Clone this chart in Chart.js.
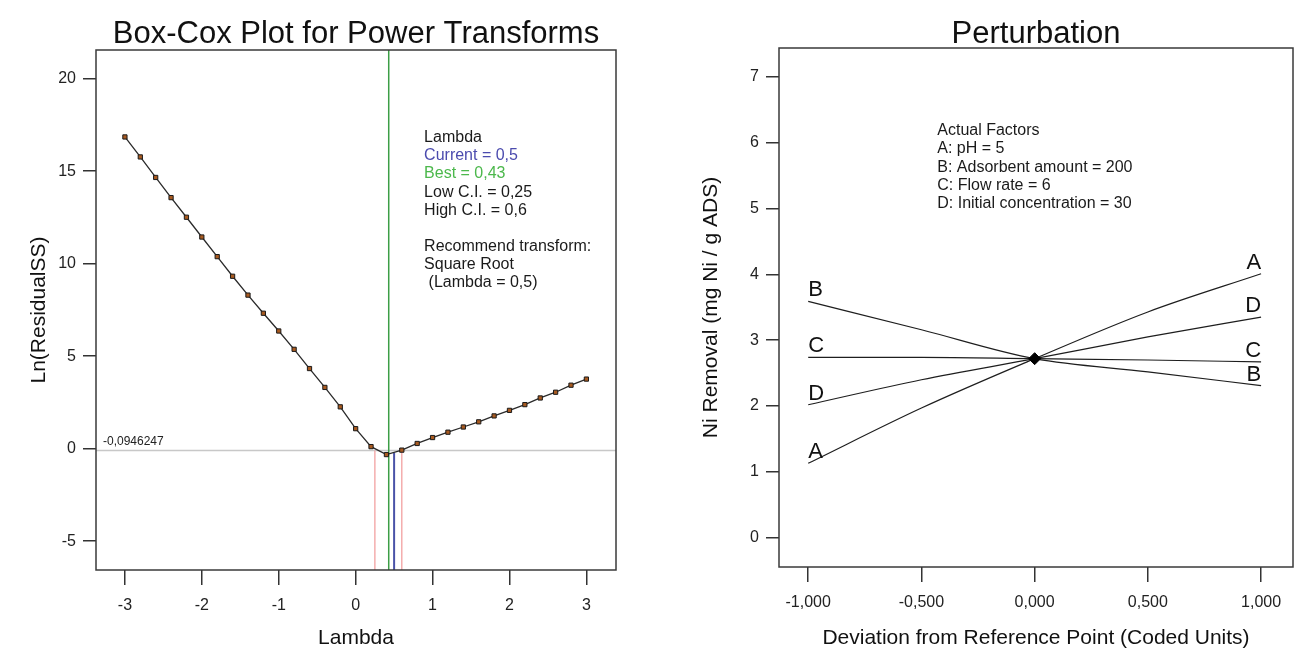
<!DOCTYPE html>
<html>
<head>
<meta charset="utf-8">
<title>Box-Cox Plot and Perturbation</title>
<script src="https://cdn.jsdelivr.net/npm/chart.js@4.4.1/dist/chart.umd.min.js"></script>
<style>
  html, body { margin: 0; padding: 0; background: #fff; }
  #wrap { position: relative; width: 1294px; height: 651px; overflow: hidden; }
  canvas { position: absolute; top: 0; }
  #boxcox { left: 0; }
  #perturb { left: 650px; }
</style>
</head>
<body>
<div id="wrap">
  <canvas id="boxcox" width="650" height="651"></canvas>
  <canvas id="perturb" width="650" height="651"></canvas>
</div>
<script>
// ---- Box-Cox data ----
const lambdaValues = [-3, -2.8, -2.6, -2.4, -2.2, -2, -1.8, -1.6, -1.4, -1.2, -1, -0.8, -0.6, -0.4, -0.2,
                      0, 0.2, 0.4, 0.6, 0.8, 1, 1.2, 1.4, 1.6, 1.8, 2, 2.2, 2.4, 2.6, 2.8, 3];
const lnResidualSS = [16.85, 15.77, 14.66, 13.57, 12.51, 11.44, 10.38, 9.32, 8.30, 7.32, 6.36, 5.37, 4.33, 3.31, 2.26,
                      1.08, 0.11, -0.32, -0.08, 0.28, 0.60, 0.89, 1.17, 1.45, 1.77, 2.07, 2.38, 2.74, 3.05, 3.43, 3.76];
const ciThreshold = -0.0946247;
const lambdaLowCI = 0.25;
const lambdaBest = 0.43;
const lambdaCurrent = 0.5;
const lambdaHighCI = 0.6;
const currentLn = -0.22;
const boxcoxXTicks = [-3, -2, -1, 0, 1, 2, 3];
const boxcoxYTicks = [-5, 0, 5, 10, 15, 20];
const boxcoxXRange = [-3.376, 3.385];
const boxcoxYRange = [-6.56, 21.55];
const boxcoxNote = ['Lambda', 'Current = 0,5', 'Best = 0,43', 'Low C.I. = 0,25', 'High C.I. = 0,6', '',
                    'Recommend transform:', 'Square Root', ' (Lambda = 0,5)'];
const boxcoxNoteColors = ['#1a1a1a', '#4b4bae', '#4cb84c', '#1a1a1a', '#1a1a1a', '#1a1a1a', '#1a1a1a', '#1a1a1a', '#1a1a1a'];

// ---- Perturbation data ----
const deviation = [-1, -0.5, 0, 0.5, 1];
const factorA = [1.13, 1.97, 2.72, 3.43, 4.01];
const factorB = [3.59, 3.16, 2.72, 2.52, 2.31];
const factorC = [2.74, 2.74, 2.72, 2.70, 2.67];
const factorD = [2.02, 2.40, 2.72, 3.05, 3.35];
const factorNames = ['A', 'B', 'C', 'D'];
const referencePoint = { x: 0, y: 2.72 };
const perturbXTicks = [-1, -0.5, 0, 0.5, 1];
const perturbYTicks = [0, 1, 2, 3, 4, 5, 6, 7];
const perturbXRange = [-1.129, 1.141];
const perturbYRange = [-0.445, 7.44];
const perturbNote = ['Actual Factors', 'A: pH = 5', 'B: Adsorbent amount = 200', 'C: Flow rate = 6', 'D: Initial concentration = 30'];

const FONT = '"Liberation Sans", Arial, sans-serif';
Chart.defaults.font.family = FONT;
Chart.defaults.color = '#222';

function xy(xs, ys) {
    return xs.map((x, i) => ({ x: x, y: ys[i] }));
}

function fixedTicks(values) {
    return scale => { scale.ticks = values.map(v => ({ value: v })); };
}

// frame + title + notes, drawn after everything else
function framePlugin(title, extra) {
    return {
        id: 'frame',
        afterDraw(chart) {
            const ctx = chart.ctx;
            const a = chart.chartArea;
            ctx.save();
            ctx.strokeStyle = '#3a3a3a';
            ctx.lineWidth = 1.5;
            ctx.strokeRect(a.left, a.top, a.right - a.left, a.bottom - a.top);
            ctx.fillStyle = '#111';
            ctx.font = '31px ' + FONT;
            ctx.textAlign = 'center';
            ctx.textBaseline = 'alphabetic';
            ctx.fillText(title, (a.left + a.right) / 2, 43);
            if (extra) extra(chart, ctx);
            ctx.restore();
        }
    };
}

function drawNote(ctx, x, y, lines, colors) {
    ctx.font = '16px ' + FONT;
    ctx.textAlign = 'left';
    ctx.textBaseline = 'middle';
    lines.forEach((line, i) => {
        ctx.fillStyle = colors ? colors[i] : '#1a1a1a';
        ctx.fillText(line, x, y + i * 18.1);
    });
}

function axisStyle(tickLength, padding) {
    return {
        grid: { drawOnChartArea: false, drawTicks: true, tickLength: tickLength, tickColor: '#333', lineWidth: 1.5 },
        border: { display: false },
        ticks: { padding: padding, font: { size: 16 }, color: '#222' }
    };
}

// ---------- Box-Cox chart ----------
const bx = axisStyle(15, 11);
const by = axisStyle(13, 7);

new Chart(document.getElementById('boxcox'), {
    type: 'scatter',
    data: {
        datasets: [
            {
                data: xy(lambdaValues, lnResidualSS),
                showLine: true,
                borderColor: '#2a2a2a',
                borderWidth: 1.3,
                pointStyle: 'rect',
                pointRadius: 3,
                pointBackgroundColor: '#a85a20',
                pointBorderColor: '#1a1a1a',
                pointBorderWidth: 1,
                order: 0
            },
            {
                data: [{ x: boxcoxXRange[0], y: ciThreshold }, { x: boxcoxXRange[1], y: ciThreshold }],
                showLine: true, pointRadius: 0, borderColor: '#c8c8c8', borderWidth: 1.5, order: 3
            },
            {
                data: [{ x: lambdaLowCI, y: boxcoxYRange[0] }, { x: lambdaLowCI, y: ciThreshold }],
                showLine: true, pointRadius: 0, borderColor: '#f2a0a0', borderWidth: 1.3, order: 2
            },
            {
                data: [{ x: lambdaHighCI, y: boxcoxYRange[0] }, { x: lambdaHighCI, y: ciThreshold }],
                showLine: true, pointRadius: 0, borderColor: '#f2a0a0', borderWidth: 1.3, order: 2
            },
            {
                data: [{ x: lambdaBest, y: boxcoxYRange[0] }, { x: lambdaBest, y: boxcoxYRange[1] }],
                showLine: true, pointRadius: 0, borderColor: '#3c9e46', borderWidth: 1.5, order: 1
            },
            {
                data: [{ x: lambdaCurrent, y: boxcoxYRange[0] }, { x: lambdaCurrent, y: currentLn }],
                showLine: true, pointRadius: 0, borderColor: '#4a52a8', borderWidth: 2, order: 1
            }
        ]
    },
    options: {
        responsive: false,
        animation: false,
        devicePixelRatio: 1,
        layout: { padding: { top: 50, right: 34, left: 0, bottom: 0 } },
        plugins: { legend: { display: false }, tooltip: { enabled: false } },
        scales: {
            x: {
                type: 'linear',
                min: boxcoxXRange[0],
                max: boxcoxXRange[1],
                afterBuildTicks: fixedTicks(boxcoxXTicks),
                afterFit: s => { s.height = 81; },
                grid: bx.grid,
                border: bx.border,
                ticks: bx.ticks,
                title: { display: true, text: 'Lambda', font: { size: 21 }, color: '#111', padding: { top: 0, bottom: 0 } }
            },
            y: {
                type: 'linear',
                min: boxcoxYRange[0],
                max: boxcoxYRange[1],
                afterBuildTicks: fixedTicks(boxcoxYTicks),
                afterFit: s => { s.width = 96; },
                grid: by.grid,
                border: by.border,
                ticks: by.ticks,
                title: { display: true, text: 'Ln(ResidualSS)', font: { size: 21 }, color: '#111', padding: { top: 27, bottom: 0 } }
            }
        }
    },
    plugins: [framePlugin('Box-Cox Plot for Power Transforms', (chart, ctx) => {
        const xs = chart.scales.x, ys = chart.scales.y;
        drawNote(ctx, xs.getPixelForValue(0.89), ys.getPixelForValue(16.8), boxcoxNote, boxcoxNoteColors);
        ctx.font = '12px ' + FONT;
        ctx.fillStyle = '#222';
        ctx.textAlign = 'left';
        ctx.textBaseline = 'alphabetic';
        ctx.fillText(ciThreshold.toFixed(7).replace('.', ','), chart.chartArea.left + 7, ys.getPixelForValue(ciThreshold) - 5);
    })]
});

// ---------- Perturbation chart ----------
const px = axisStyle(15, 11);
const py = axisStyle(13, 7);
const factorSeries = [factorA, factorB, factorC, factorD];

new Chart(document.getElementById('perturb'), {
    type: 'scatter',
    data: {
        datasets: factorSeries.map((vals, i) => ({
            label: factorNames[i],
            data: xy(deviation, vals),
            showLine: true,
            borderColor: '#1e1e1e',
            borderWidth: 1.2,
            pointRadius: 0,
            cubicInterpolationMode: 'monotone',
            order: 1
        })).concat([{
            label: 'ref',
            data: [referencePoint],
            pointStyle: 'rectRot',
            pointRadius: 6,
            pointBackgroundColor: '#000',
            pointBorderColor: '#000',
            order: 0
        }])
    },
    options: {
        responsive: false,
        animation: false,
        devicePixelRatio: 1,
        layout: { padding: { top: 48, right: 1, left: 0, bottom: 0 } },
        plugins: { legend: { display: false }, tooltip: { enabled: false } },
        scales: {
            x: {
                type: 'linear',
                min: perturbXRange[0],
                max: perturbXRange[1],
                afterBuildTicks: fixedTicks(perturbXTicks),
                afterFit: s => { s.height = 84; },
                grid: px.grid,
                border: px.border,
                ticks: Object.assign({}, px.ticks, { callback: v => v.toFixed(3).replace('.', ',') }),
                title: { display: true, text: 'Deviation from Reference Point (Coded Units)', font: { size: 21 }, color: '#111', padding: { top: 0, bottom: 0 } }
            },
            y: {
                type: 'linear',
                min: perturbYRange[0],
                max: perturbYRange[1],
                afterBuildTicks: fixedTicks(perturbYTicks),
                afterFit: s => { s.width = 129; },
                grid: py.grid,
                border: py.border,
                ticks: py.ticks,
                title: { display: true, text: 'Ni Removal (mg Ni / g ADS)', font: { size: 21 }, color: '#111', padding: { top: 49, bottom: 0 } }
            }
        }
    },
    plugins: [framePlugin('Perturbation', (chart, ctx) => {
        const xs = chart.scales.x, ys = chart.scales.y;
        drawNote(ctx, xs.getPixelForValue(-0.43), ys.getPixelForValue(6.18), perturbNote);
        // factor letters at both ends of each line
        ctx.font = '22px ' + FONT;
        ctx.fillStyle = '#111';
        ctx.textBaseline = 'alphabetic';
        factorNames.forEach((name, i) => {
            const pts = chart.getDatasetMeta(i).data;
            const first = pts[0], last = pts[pts.length - 1];
            ctx.textAlign = 'left';
            ctx.fillText(name, first.x, first.y - 5);
            ctx.textAlign = 'right';
            ctx.fillText(name, last.x, last.y - 5);
        });
    })]
});
</script>
</body>
</html>
